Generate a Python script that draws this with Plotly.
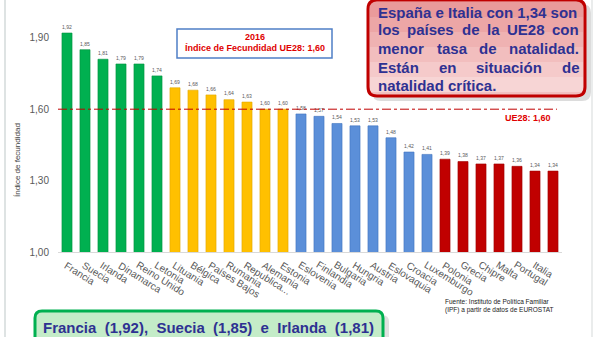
import plotly.graph_objects as go

# ---------------- data ----------------
countries = ["Francia", "Suecia", "Irlanda", "Dinamarca", "Reino Unido", "Letonia",
             "Lituania", "Bélgica", "Países Bajos", "Rumania", "Republica...", "Alemania", "Estonia",
             "Eslovenia", "Finlandia", "Bulgaria", "Hungria", "Austria", "Eslovaquia", "Croacia", "Luxemburgo",
             "Polonia", "Grecia", "Chipre", "Malta", "Portugal", "Italia", "España"]
fertility = [1.92, 1.85, 1.81, 1.79, 1.79, 1.74,
             1.69, 1.68, 1.66, 1.64, 1.63, 1.60, 1.60,
             1.58, 1.57, 1.54, 1.53, 1.53, 1.48, 1.42, 1.41,
             1.39, 1.38, 1.37, 1.37, 1.36, 1.34, 1.34]
tick_labels = countries[:-1] + [""]
y_ticks = [1.00, 1.30, 1.60, 1.90]
eu_average = 1.60

# ---------------- style ----------------
def bar_color(v):
    if v >= 1.70:
        return "#00b050"
    if v >= 1.60:
        return "#ffc000"
    if v >= 1.40:
        return "#5b8fd9"
    return "#c00000"

def edge_color(v):
    if v >= 1.70:
        return "#009040"
    if v >= 1.60:
        return "#e0a800"
    if v >= 1.40:
        return "#3f73bf"
    return "#a00000"

W, H = 600, 337
L, R, T, B = 58, 38, 14, 85
PW, PH = W - L - R, H - T - B

def px(x):
    return (x - L) / PW

def py(y):
    return (H - B - y) / PH

NAVY = "#2e3192"
RED = "#e00000"
GRAY = "#595959"

fig = go.Figure()
fig.add_trace(go.Bar(
    x=countries, y=fertility,
    marker=dict(color=[bar_color(v) for v in fertility],
                line=dict(color=[edge_color(v) for v in fertility], width=0.6)),
    text=[f"{v:.2f}".replace(".", ",") for v in fertility],
    textposition="outside",
    textfont=dict(size=8.5, color=GRAY, family="Liberation Sans"),
    cliponaxis=False,
    hoverinfo="skip",
))

shapes = []
annotations = []

# category labels (text starts at the bar, running down-right)
for c, lab in zip(countries, tick_labels):
    if not lab:
        continue
    annotations.append(dict(xref="x", yref="paper", x=c, y=py(258), text=lab,
                            textangle=32, showarrow=False, xanchor="left", yanchor="top",
                            xshift=-6, borderpad=0,
                            font=dict(size=10, color=GRAY, family="Liberation Sans")))

# reference line
shapes.append(dict(type="line", xref="paper", yref="y", x0=0, x1=0.99,
                   y0=eu_average, y1=eu_average,
                   line=dict(color="#c00000", width=1, dash="dashdot")))
annotations.append(dict(xref="paper", yref="paper", x=px(553), y=py(118),
                        text="<b>UE28: 1,60</b>", showarrow=False, xanchor="right", yanchor="middle",
                        font=dict(size=9, color=RED, family="Liberation Sans")))

# page side lines
shapes.append(dict(type="line", xref="paper", yref="paper", x0=px(5), x1=px(5), y0=py(0), y1=py(337),
                   line=dict(color="#d3dada", width=1.5)))
shapes.append(dict(type="line", xref="paper", yref="paper", x0=px(592), x1=px(592), y0=py(0), y1=py(337),
                   line=dict(color="#e3e6e6", width=1.5)))

# middle info box
shapes.append(dict(type="rect", xref="paper", yref="paper", x0=px(177), x1=px(332), y0=py(29), y1=py(58),
                   fillcolor="white", line=dict(color="#4f7fc6", width=1.5)))
annotations.append(dict(xref="paper", yref="paper", x=px(255), y=py(37), text="<b>2016</b>",
                        showarrow=False, xanchor="center", yanchor="middle",
                        font=dict(size=9, color=RED, family="Liberation Sans")))
annotations.append(dict(xref="paper", yref="paper", x=px(255), y=py(48),
                        text="<b>Índice de Fecundidad UE28: 1,60</b>",
                        showarrow=False, xanchor="center", yanchor="middle",
                        font=dict(size=9, color=RED, family="Liberation Sans")))

def rounded_path(x0, y0, x1, y1, r):
    def P(x, y):
        return f"{px(x)},{py(y)}"
    return (f"M {P(x0 + r, y0)} L {P(x1 - r, y0)} Q {P(x1, y0)} {P(x1, y0 + r)} "
            f"L {P(x1, y1 - r)} Q {P(x1, y1)} {P(x1 - r, y1)} L {P(x0 + r, y1)} "
            f"Q {P(x0, y1)} {P(x0, y1 - r)} L {P(x0, y0 + r)} Q {P(x0, y0)} {P(x0 + r, y0)} Z")

# red callout (shadow + gradient-ish box)
shapes.append(dict(type="path", xref="paper", yref="paper", path=rounded_path(372, 4, 591, 101, 9),
                   fillcolor="#dcdcdc", line=dict(width=0), layer="above"))
shapes.append(dict(type="path", xref="paper", yref="paper", path=rounded_path(368, 0, 585, 96, 9),
                   fillcolor="#f2c0c0", line=dict(width=0), layer="above"))
bands = ["#e99b9b", "#eca6a6", "#efb2b2", "#f2bebe", "#f5caca", "#f7d5d5"]
bh = 90 / len(bands)
for i, col in enumerate(bands):
    shapes.append(dict(type="rect", xref="paper", yref="paper",
                       x0=px(370), x1=px(583), y0=py(2 + i * bh), y1=py(2 + (i + 1) * bh),
                       fillcolor=col, line=dict(width=0), layer="above"))
shapes.append(dict(type="path", xref="paper", yref="paper", path=rounded_path(368, 0, 585, 96, 9),
                   fillcolor="rgba(0,0,0,0)", line=dict(color="#c00000", width=3), layer="above"))
callout_lines = [
    (12, [("España e Italia con 1,34 son", 377)]),
    (30, [("los", 377), ("países", 406.4), ("de", 460.8), ("la", 486), ("UE28", 506.2), ("con", 551.4)]),
    (48, [("menor", 377), ("tasa", 435.5), ("de", 478), ("natalidad.", 508)]),
    (67, [("Están", 377), ("en", 437.7), ("situación", 475), ("de", 560.5)]),
    (85, [("natalidad crítica.", 377)]),
]
for yy, words in callout_lines:
    for w, xx in words:
        annotations.append(dict(xref="paper", yref="paper", x=px(xx), y=py(yy), text=f"<b>{w}</b>",
                                showarrow=False, xanchor="left", yanchor="middle", borderpad=0,
                                font=dict(size=15, color=NAVY, family="Liberation Sans")))

# green bottom box
shapes.append(dict(type="path", xref="paper", yref="paper", path=rounded_path(39, 315, 389, 345, 7),
                   fillcolor="#e0e0e0", line=dict(width=0), layer="above"))
shapes.append(dict(type="path", xref="paper", yref="paper", path=rounded_path(35, 311, 383, 345, 7),
                   fillcolor="#c4ecc8", line=dict(color="#00b050", width=3), layer="above"))
annotations.append(dict(xref="paper", yref="paper", x=px(208), y=py(327),
                        text="<b>Francia  (1,92),  Suecia  (1,85)  e  Irlanda  (1,81)</b>",
                        showarrow=False, xanchor="center", yanchor="middle",
                        font=dict(size=15, color=NAVY, family="Liberation Sans")))

# source
annotations.append(dict(xref="paper", yref="paper", x=px(443), y=py(306),
                        text="Fuente: Instituto de Política Familiar<br>(IPF) a partir de datos de EUROSTAT",
                        showarrow=False, xanchor="left", yanchor="middle", align="left",
                        font=dict(size=6.5, color="#222222", family="Liberation Sans Narrow, Liberation Sans")))

# y axis title
annotations.append(dict(xref="paper", yref="paper", x=px(17), y=py(160), text="Índice de fecundidad",
                        textangle=-90, showarrow=False, xanchor="center", yanchor="middle",
                        font=dict(size=8, color="#404040", family="Liberation Sans")))

fig.update_layout(
    width=W, height=H,
    margin=dict(l=L, r=R, t=T, b=B),
    paper_bgcolor="white", plot_bgcolor="white",
    separators=",.",
    bargap=0.44,
    showlegend=False,
    shapes=shapes,
    annotations=annotations,
    xaxis=dict(showticklabels=False,
               showline=True, linecolor="#d9d9d9", linewidth=1, showgrid=False,
               ticks="", fixedrange=True),
    yaxis=dict(range=[1.0, 2.0], tickvals=y_ticks, tickformat=".2f",
               tickfont=dict(size=10, color=GRAY, family="Liberation Sans"),
               showgrid=False, zeroline=False, showline=False, ticks="",
               ticklabelstandoff=8, fixedrange=True),
)

fig.write_html("out.html")
